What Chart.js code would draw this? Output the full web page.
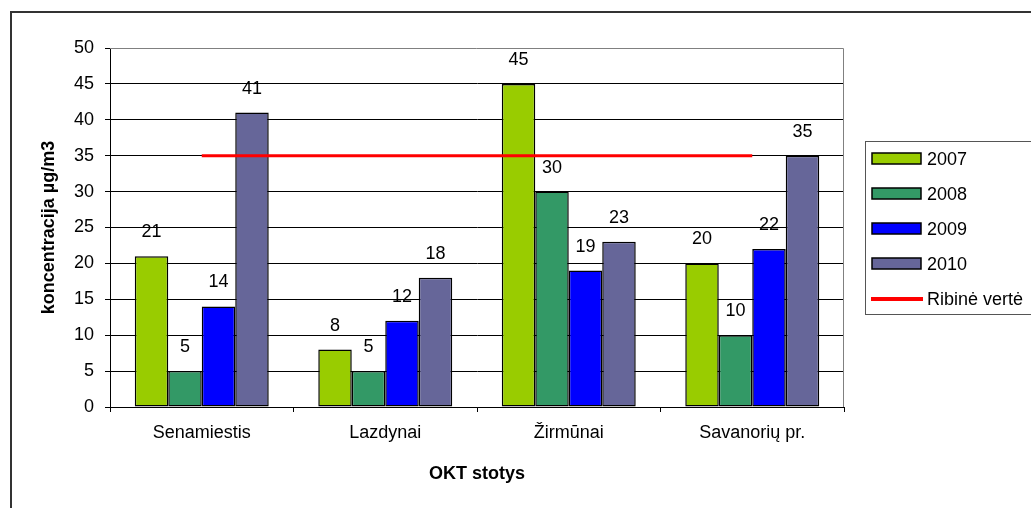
<!DOCTYPE html>
<html>
<head>
<meta charset="utf-8">
<script src="https://cdn.jsdelivr.net/npm/chart.js@4.4.0/dist/chart.umd.min.js"></script>
<style>
  html, body { margin: 0; padding: 0; background: #fff; overflow: hidden; }
  #wrap { position: absolute; left: 0; top: 0; width: 1120px; height: 508px; }
</style>
</head>
<body>
<div id="wrap"><canvas id="chart" width="1120" height="508"></canvas></div>
<script>
const FONT = "'Liberation Sans', Arial, sans-serif";

const stations = ["Senamiestis", "Lazdynai", "Žirmūnai", "Savanorių pr."];
const years = ["2007", "2008", "2009", "2010"];
const values2007 = [21, 8, 45, 20];
const values2008 = [5, 5, 30, 10];
const values2009 = [14, 12, 19, 22];
const values2010 = [41, 18, 23, 35];
const limitValues = [35, 35, 35, 35];
const limitLabel = "Ribinė vertė";
const yTicks = [0, 5, 10, 15, 20, 25, 30, 35, 40, 45, 50];

const barColors = ["#99CC00", "#339966", "#0000FF", "#666699"];

// outer frame + plot border
const framePlugin = {
  id: "frame",
  beforeDraw(chart) {
    const ctx = chart.ctx;
    ctx.save();
    ctx.fillStyle = "#fff";
    ctx.fillRect(0, 0, chart.width, chart.height);
    ctx.strokeStyle = "#333";
    ctx.lineWidth = 2;
    ctx.strokeRect(11, 12, 1300, 700);
    ctx.restore();
  },
  beforeDatasetsDraw(chart) {
    const { ctx, chartArea: a } = chart;
    ctx.save();
    ctx.strokeStyle = "#808080";
    ctx.lineWidth = 1;
    ctx.beginPath();
    ctx.moveTo(a.left, a.top + 0.5);
    ctx.lineTo(a.right - 0.5, a.top + 0.5);
    ctx.lineTo(a.right - 0.5, a.bottom);
    ctx.stroke();
    ctx.restore();
  },
};

// value labels above bars
const labelPlugin = {
  id: "barLabels",
  afterDatasetsDraw(chart) {
    const ctx = chart.ctx;
    ctx.save();
    ctx.font = "18px " + FONT;
    ctx.fillStyle = "#000";
    ctx.textAlign = "center";
    ctx.textBaseline = "middle";
    chart.data.datasets.forEach((ds, i) => {
      if (ds.type === "line") return;
      chart.getDatasetMeta(i).data.forEach((bar, j) => {
        ctx.fillText(String(ds.data[j]), bar.x, bar.y - 24);
      });
    });
    ctx.restore();
  },
};

// legend box on the right
const legendPlugin = {
  id: "sideLegend",
  afterDraw(chart) {
    const ctx = chart.ctx;
    ctx.save();
    ctx.strokeStyle = "#555";
    ctx.lineWidth = 1;
    ctx.fillStyle = "#fff";
    ctx.fillRect(865.5, 141.5, 220, 173);
    ctx.strokeRect(865.5, 141.5, 220, 173);
    ctx.font = "18px " + FONT;
    ctx.textBaseline = "middle";
    ctx.textAlign = "left";
    const rowY = [159, 194, 229, 264, 299];
    chart.data.datasets.forEach((ds, i) => {
      const y = rowY[i];
      if (ds.type === "line") {
        ctx.strokeStyle = ds.borderColor;
        ctx.lineWidth = 4;
        ctx.beginPath();
        ctx.moveTo(871, y);
        ctx.lineTo(923, y);
        ctx.stroke();
      } else {
        ctx.fillStyle = ds.backgroundColor;
        ctx.fillRect(872, y - 6, 49, 11);
        ctx.strokeStyle = "#000";
        ctx.lineWidth = 1.5;
        ctx.strokeRect(872, y - 6, 49, 11);
      }
      ctx.fillStyle = "#000";
      ctx.fillText(ds.label, 927, y + 1);
    });
    ctx.restore();
  },
};

const barSets = [values2007, values2008, values2009, values2010].map((vals, i) => ({
  type: "bar",
  label: years[i],
  data: vals,
  backgroundColor: barColors[i],
  borderColor: "#000",
  borderWidth: 1.5,
  borderSkipped: false,
  categoryPercentage: 0.73,
  barPercentage: 1.0,
  order: 1,
}));

new Chart(document.getElementById("chart").getContext("2d"), {
  data: {
    labels: stations,
    datasets: [
      ...barSets,
      {
        type: "line",
        label: limitLabel,
        data: limitValues,
        borderColor: "#FF0000",
        borderWidth: 3,
        pointRadius: 0,
        fill: false,
        order: 0,
      },
    ],
  },
  options: {
    responsive: false,
    animation: false,
    layout: { padding: { left: 0, top: 48, right: 276, bottom: 0 } },
    plugins: {
      legend: { display: false },
      tooltip: { enabled: false },
    },
    scales: {
      x: {
        afterFit: (s) => { s.height = 101; },
        grid: {
          offset: true,
          drawOnChartArea: false,
          drawTicks: true,
          tickLength: 5,
          color: "#000",
        },
        border: { color: "#000", width: 1 },
        ticks: { color: "#000", font: { family: FONT, size: 18 }, padding: 10 },
        title: {
          display: true,
          text: "OKT stotys",
          color: "#000",
          font: { family: FONT, size: 18, weight: "bold" },
          padding: { top: 0, bottom: 23 },
        },
      },
      y: {
        min: 0,
        max: 50,
        afterFit: (s) => { s.width = 110; },
        afterBuildTicks: (s) => { s.ticks = yTicks.map((v) => ({ value: v })); },
        grid: {
          color: (c) => (c.tick && c.tick.value === 50 ? "rgba(0,0,0,0)" : "#000"),
          tickColor: "#000",
          tickLength: 5,
        },
        border: { color: "#000", width: 1 },
        ticks: { color: "#000", font: { family: FONT, size: 18 }, padding: 11 },
        title: {
          display: true,
          text: "koncentracija µg/m3",
          color: "#000",
          font: { family: FONT, size: 18, weight: "bold" },
          padding: { top: 38, bottom: 0 },
        },
      },
    },
  },
  plugins: [framePlugin, labelPlugin, legendPlugin],
});
</script>
</body>
</html>
